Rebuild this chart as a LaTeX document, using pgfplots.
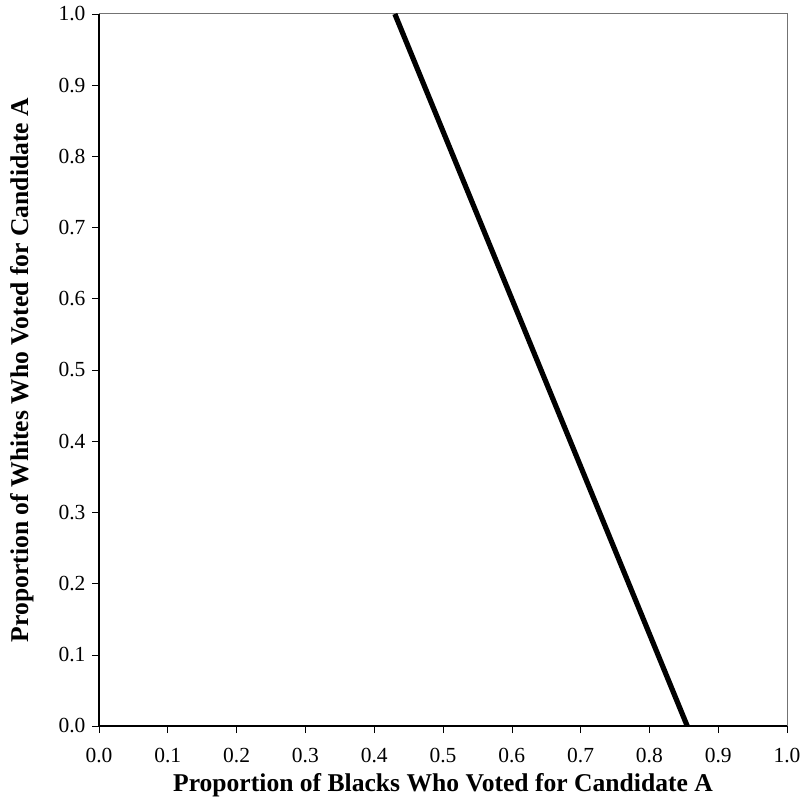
\documentclass[border=0pt]{standalone}
\usepackage{fontspec}
\setmainfont{Liberation Serif}
\usepackage{pgfplots}
\pgfplotsset{compat=1.18}

\begin{document}
\begin{tikzpicture}
  \begin{axis}[
    scale only axis,
    width=688pt, height=712pt,
    xmin=0, xmax=1, ymin=0, ymax=1,
    xtick={0,0.1,...,1.0}, ytick={0,0.1,...,1.0},
    /pgf/number format/fixed,
    /pgf/number format/fixed zerofill,
    /pgf/number format/precision=1,
    /pgf/number format/assume math mode=true,
    axis lines=left,
    axis line style={-, black, line width=1.8pt},
    tick align=outside,
    major tick length=7pt,
    tick style={black, line width=0.6pt},
    ticklabel style={font=\fontsize{21.5}{25}\selectfont},
    xticklabel style={yshift=-12pt},
    yticklabel style={xshift=-3pt},
    label style={font=\fontsize{25.6}{30}\selectfont\bfseries},
    xlabel={Proportion of Blacks Who Voted for Candidate A},
    ylabel={Proportion of Whites Who Voted for Candidate A},
    xlabel style={at={(axis description cs:0.5,-0.083)}, anchor=center},
    ylabel style={at={(axis description cs:-0.112,0.5)}, anchor=center},
    clip=false,
  ]
    \draw[black!55, line width=1pt] (rel axis cs:0,1) -- (rel axis cs:1,1) -- (rel axis cs:1,0);
    \path (rel axis cs:0,0) ++(-99pt,-82pt) (rel axis cs:1,1) ++(15pt,14pt);
    \addplot[black, line width=5.2pt, line cap=butt] coordinates {(0.43,1.0) (0.855,0.0)};
  \end{axis}
\end{tikzpicture}
\end{document}
